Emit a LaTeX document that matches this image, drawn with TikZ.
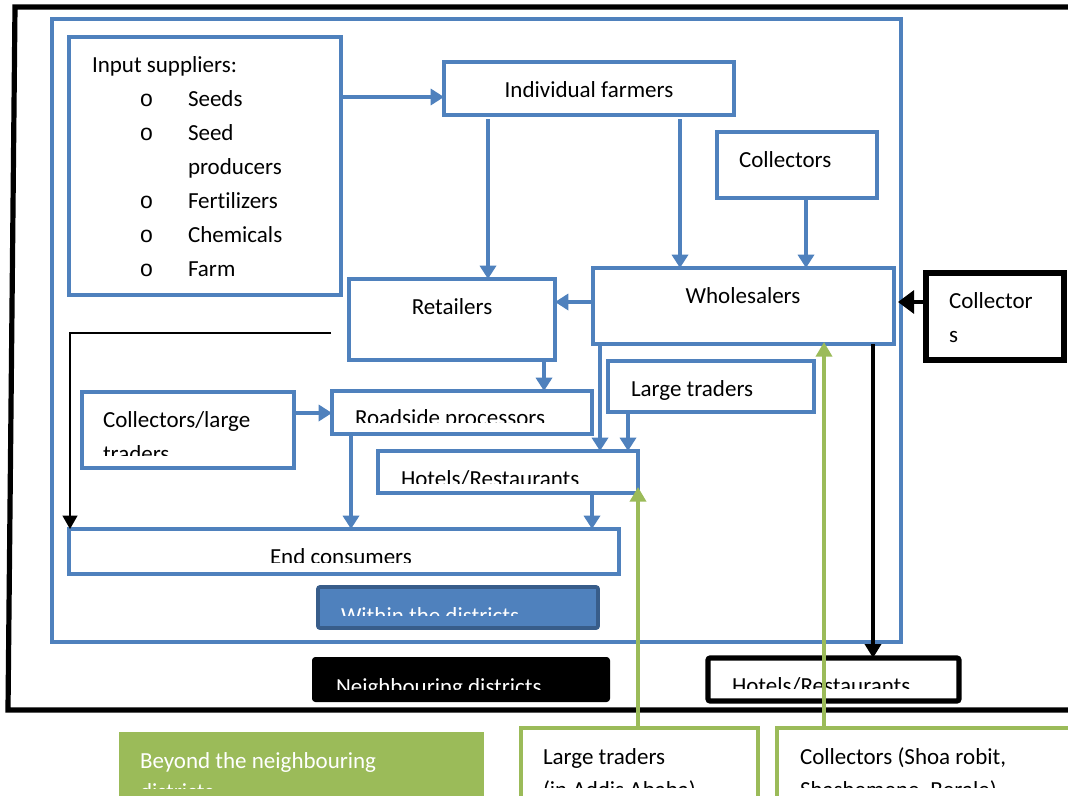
\documentclass[tikz,border=0pt]{standalone}
\usepackage{fontspec}
\setmainfont{Carlito}[Ligatures=NoCommon]
\newfontfamily\bulletfont{Liberation Mono}
\usetikzlibrary{arrows.meta,fit,calc}
\definecolor{accblue}{HTML}{4F81BD}
\definecolor{accbluedark}{HTML}{385D8A}
\definecolor{accgreen}{HTML}{9BBB59}
\begin{document}
\begin{tikzpicture}[x=0.75pt,y=-0.75pt,
  every node/.style={font=\fontsize{17.25pt}{25pt}\selectfont},
  frame/.style={inner sep=0pt, outer sep=0pt},
  bluebox/.style={frame, draw=accblue, line width=3.4pt, fill=white},
  blackbox/.style={frame, draw=black, line width=3.8pt, fill=white},
  greenbox/.style={frame, draw=accgreen, line width=3.6pt, fill=white},
  txt/.style={anchor=base west, inner sep=0pt, outer sep=0pt},
  ctxt/.style={anchor=base, inner sep=0pt, outer sep=0pt},
  bullet/.style={anchor=base, inner sep=0pt, font=\bulletfont\fontsize{17.25pt}{25pt}\selectfont},
  flow/.style={draw=accblue, line width=3.4pt, -{Triangle[width=12pt,length=10pt]}},
  thinflow/.style={draw=black, line width=1.5pt, -{Triangle[width=11pt,length=10pt]}},
  heavyflow/.style={draw=black, line width=3.4pt, -{Triangle[width=17pt,length=12pt]}},
  downflow/.style={draw=black, line width=2.6pt, -{Triangle[width=12pt,length=10.5pt]}},
  greenflow/.style={draw=accgreen, line width=3.4pt, -{Triangle[width=12pt,length=11pt]}},
]
\useasboundingbox (0,0) rectangle (1068,796);
\fill[white] (0,0) rectangle (1068,796);

% outer frame of the neighbouring districts
\draw[line width=3.9pt] (1085,7) -- (15,7) -- (8,710) -- (1085,710);

% frame of the districts
\node[bluebox, fill=none, fit={(52,19)(901,642)}] (district) {};

% guide coordinates for connector levels
\coordinate (y97) at (0,97);
\coordinate (y302) at (0,302);
\coordinate (y333) at (0,333);
\coordinate (y413) at (0,413);
\coordinate (x70) at (70,0);
\coordinate (x351) at (351,0);
\coordinate (x488) at (488,0);
\coordinate (x544) at (544,0);
\coordinate (x592) at (592,0);
\coordinate (x600) at (600,0);
\coordinate (x628) at (628,0);
\coordinate (x638) at (638,0);
\coordinate (x680) at (680,0);
\coordinate (x806) at (806,0);
\coordinate (x824) at (824,0);
\coordinate (x873) at (873,0);

% boxes within the districts
\node[bluebox, fit={(69,37)(341,295)}] (input) {};
\node[bluebox, fit={(444,62)(734,115)}] (farmers) {};
\node[bluebox, fit={(717,132)(877,198)}] (coll) {};
\node[bluebox, fit={(593,268)(894,344)}] (whole) {};
\node[bluebox, fit={(349,279)(555,360)}] (retail) {};
\node[bluebox, fit={(608,361)(814,412)}] (large) {};
\node[bluebox, fit={(82,392)(294,468)}] (cltr) {};
\node[bluebox, fit={(332,391)(592,434)}] (road) {};
\node[bluebox, fit={(378,451)(638,493)}] (hotels) {};
\node[bluebox, fit={(69,529)(619,574)}] (endc) {};
\node[frame, draw=accbluedark, line width=2.8pt, fill=accblue, rounded corners=1.5pt, fit={(318,587)(598,628)}] (within) {};

% boxes in the neighbouring districts
\node[blackbox, fit={(926,273)(1064,360)}] (colr) {};
\node[frame, fill=black, rounded corners=2.5pt, fit={(312,657)(610,702)}] (neigh) {};
\node[blackbox, rounded corners=1.5pt, fit={(708,658)(959,701)}] (hotb) {};

% boxes beyond the neighbouring districts
\node[frame, fill=accgreen, fit={(119,732)(484,810)}] (beyond) {};
\node[greenbox, fit={(521,728)(758,812)}] (ltg) {};
\node[greenbox, fit={(777,728)(1090,812)}] (ctg) {};

% texts
\node[txt] (t-input) at (92,72) {Input suppliers:};
\foreach \yy/\name in {106/b1,140/b2,208/b3,242/b4,276/b5}
  \node[bullet] (\name) at (146.5,\yy) {o};
\node[txt] (t-seeds) at (188,106) {Seeds};
\node[txt] (t-seed) at (188,140) {Seed};
\node[txt] (t-prod) at (188,174) {producers};
\node[txt] (t-fert) at (188,208) {Fertilizers};
\node[txt] (t-chem) at (188,242) {Chemicals};
\node[txt] (t-farm) at (188,276) {Farm};

\node[ctxt] (t-farmers) at (589,97) {Individual farmers};
\node[txt] (t-coll) at (739,167) {Collectors};
\node[ctxt] (t-whole) at (743,303) {Wholesalers};
\node[ctxt] (t-retail) at (452,314) {Retailers};
\node[txt] (t-colr1) at (949,308) {Collector};
\node[txt] (t-colr2) at (949,342) {s};
\node[txt] (t-large) at (631,396) {Large traders};
\node[txt] (t-cltr1) at (103,427) {Collectors/large};
\begin{scope}
  \clip (85,395) rectangle (290,455);
  \node[txt] (t-cltr2) at (103,461) {traders};
\end{scope}
\begin{scope}
  \clip (335,394) rectangle (589,422);
  \node[txt] (t-road) at (355,425) {Roadside processors};
\end{scope}
\begin{scope}
  \clip (381,454) rectangle (635,483);
  \node[txt] (t-hotels) at (401,486) {Hotels/Restaurants};
\end{scope}
\begin{scope}
  \clip (72,532) rectangle (616,562);
  \node[txt] (t-endc) at (270,564) {End consumers};
\end{scope}
\begin{scope}
  \clip (321,590) rectangle (595,615);
  \node[txt, text=white] (t-within) at (341,623) {Within the districts};
\end{scope}
\begin{scope}
  \clip (315,660) rectangle (607,689);
  \node[txt, text=white] (t-neigh) at (336,694) {Neighbouring districts};
\end{scope}
\begin{scope}
  \clip (711,661) rectangle (956,688);
  \node[txt] (t-hotb) at (732,693) {Hotels/Restaurants};
\end{scope}
\node[txt, text=white] (t-beyond1) at (140,768) {Beyond the neighbouring};
\begin{scope}
  \clip (119,732) rectangle (484,788);
  \node[txt, text=white] (t-beyond2) at (140,799) {districts};
\end{scope}
\node[txt] (t-ltg1) at (543,764) {Large traders};
\begin{scope}
  \clip (524,731) rectangle (755,787);
  \node[txt] (t-ltg2) at (543,797) {(in Addis Ababa)};
\end{scope}
\node[txt] (t-ctg1) at (800,764) {Collectors (Shoa robit,};
\begin{scope}
  \clip (780,731) rectangle (1068,787);
  \node[txt] (t-ctg2) at (800,797) {Shashemene, Berale)};
\end{scope}

% flows within the districts
\draw[flow] (input.east |- y97) -- (farmers.west |- y97);
\draw[flow, shorten <=3pt] (farmers.south -| x488) -- (retail.north -| x488);
\draw[flow, shorten <=3pt] (farmers.south -| x680) -- (whole.north -| x680);
\draw[flow] (coll.south -| x806) -- (whole.north -| x806);
\draw[flow] (whole.west |- y302) -- (retail.east |- y302);
\draw[flow] (retail.south -| x544) -- (road.north -| x544);
\draw[flow] (cltr.east |- y413) -- (road.west |- y413);
\draw[flow] (road.south -| x351) -- (endc.north -| x351);
\draw[flow] (whole.south -| x600) -- (hotels.north -| x600);
\draw[flow] (large.south -| x628) -- (hotels.north -| x628);
\draw[flow] (hotels.south -| x592) -- (endc.north -| x592);

% retailers straight to end consumers
\coordinate (rt-start) at (331,333);
\draw[thinflow] (rt-start) -| (endc.north -| x70);

% flows with the neighbouring districts
\draw[heavyflow] (colr.west |- y302) -- ($(whole.east |- y302)+(4,0)$);
\draw[downflow] (whole.south -| x873) -- (hotb.north -| x873);

% flows from beyond the neighbouring districts
\draw[greenflow] (ltg.north -| x638) -- ($(hotels.south east)+(0,-6)$);
\draw[greenflow] (ctg.north -| x824) -- ($(whole.south -| x824)+(0,-2)$);
\end{tikzpicture}
\end{document}
